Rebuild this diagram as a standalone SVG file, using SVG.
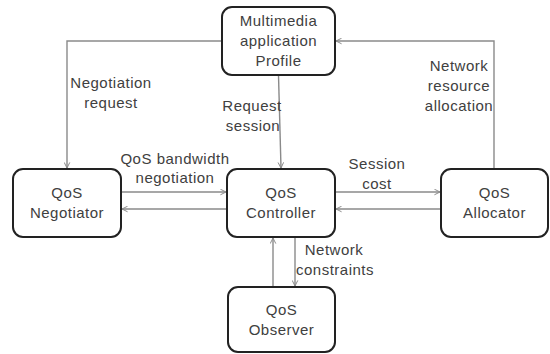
<svg xmlns="http://www.w3.org/2000/svg" width="550" height="354" viewBox="0 0 550 354">
  <style>
    .box { fill: #ffffff; stroke: #222222; stroke-width: 2; }
    .lbl { font-family: "Liberation Sans", Arial, sans-serif; font-size: 15px; letter-spacing: 0.5px; fill: #404040; text-anchor: middle; }
    .wire { fill: none; stroke: #8a8a8a; stroke-width: 1.4; marker-end: url(#head); }
  </style>
  <defs>
    <marker id="head" viewBox="0 0 10 10" refX="9" refY="5" markerWidth="7" markerHeight="7" markerUnits="userSpaceOnUse" orient="auto">
      <path d="M1,1 L9,5 L1,9" fill="none" stroke="#8a8a8a" stroke-width="1.4"/>
    </marker>
  </defs>
  <rect width="550" height="354" fill="#ffffff"/>

  <g id="connectors">
    <!-- profile to negotiator -->
    <path class="wire" d="M222,41 H67 V168"/>
    <!-- profile to controller -->
    <path class="wire" d="M278.5,75 L281,168"/>
    <!-- negotiator <-> controller -->
    <path class="wire" d="M121,192 H226"/>
    <path class="wire" d="M227,209 H122"/>
    <!-- controller <-> allocator -->
    <path class="wire" d="M335,192 H440"/>
    <path class="wire" d="M441,209 H336"/>
    <!-- allocator to profile -->
    <path class="wire" d="M494,169 V41 H336"/>
    <!-- controller <-> observer -->
    <path class="wire" d="M295,237 V286"/>
    <path class="wire" d="M273,287 V238"/>

    <text class="lbl"><tspan x="111" y="88">Negotiation</tspan><tspan x="111" y="108">request</tspan></text>
    <text class="lbl"><tspan x="252" y="111">Request</tspan><tspan x="253" y="131">session</tspan></text>
    <text class="lbl"><tspan x="175" y="164">QoS bandwidth</tspan><tspan x="175" y="183">negotiation</tspan></text>
    <text class="lbl"><tspan x="377" y="169">Session</tspan><tspan x="377" y="189">cost</tspan></text>
    <text class="lbl"><tspan x="459" y="71">Network</tspan><tspan x="459" y="91">resource</tspan><tspan x="459" y="111">allocation</tspan></text>
    <text class="lbl"><tspan x="334" y="255">Network</tspan><tspan x="335" y="275">constraints</tspan></text>
  </g>

  <g id="profile">
    <rect class="box" x="222" y="7" width="113" height="68" rx="10"/>
    <text class="lbl"><tspan x="278.5" y="26">Multimedia</tspan><tspan x="278.5" y="46">application</tspan><tspan x="278.5" y="66">Profile</tspan></text>
  </g>
  <g id="negotiator">
    <rect class="box" x="13" y="169" width="108" height="68" rx="10"/>
    <text class="lbl"><tspan x="67" y="198">QoS</tspan><tspan x="67" y="218">Negotiator</tspan></text>
  </g>
  <g id="controller">
    <rect class="box" x="227" y="169" width="108" height="68" rx="10"/>
    <text class="lbl"><tspan x="281" y="198">QoS</tspan><tspan x="281" y="218">Controller</tspan></text>
  </g>
  <g id="allocator">
    <rect class="box" x="441" y="169" width="107" height="68" rx="10"/>
    <text class="lbl"><tspan x="494.5" y="198">QoS</tspan><tspan x="494.5" y="218">Allocator</tspan></text>
  </g>
  <g id="observer">
    <rect class="box" x="228" y="287" width="107" height="65" rx="10"/>
    <text class="lbl"><tspan x="281.5" y="315">QoS</tspan><tspan x="281.5" y="335">Observer</tspan></text>
  </g>
</svg>
